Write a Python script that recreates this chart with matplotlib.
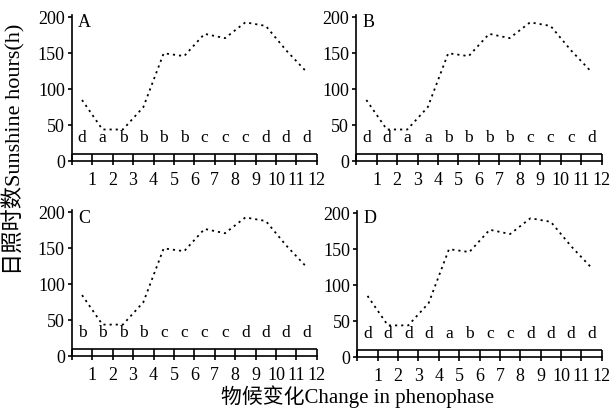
import numpy as np
import matplotlib
matplotlib.use("Agg")
import matplotlib.pyplot as plt

plt.rcParams['font.family'] = ['Liberation Serif', 'Noto Sans CJK SC', 'DejaVu Sans']

# sunshine hours per phenophase period (same curve in every panel)
sunshine = [85, 44, 44, 75, 150, 146, 177, 171, 193, 188, 154, 124]
periods = np.arange(len(sunshine)) + 0.5

panel_names = ['A', 'B', 'C', 'D']
letters = {
    'A': ['d', 'a', 'b', 'b', 'b', 'b', 'c', 'c', 'c', 'd', 'd', 'd'],
    'B': ['d', 'd', 'a', 'a', 'b', 'b', 'b', 'b', 'c', 'c', 'c', 'd'],
    'C': ['b', 'b', 'b', 'b', 'c', 'c', 'c', 'c', 'd', 'd', 'd', 'd'],
    'D': ['d', 'd', 'd', 'd', 'a', 'b', 'c', 'c', 'd', 'd', 'd', 'd'],
}
yticks = [0, 50, 100, 150, 200]
xticks = np.arange(0, 13)
xticklabels = [''] + [str(i) for i in range(1, 13)]

fig = plt.figure(figsize=(6.14, 4.09), dpi=100)

boxes = [
    [0.117, 0.606, 0.399, 0.357],
    [0.580, 0.606, 0.400, 0.357],
    [0.117, 0.129, 0.399, 0.357],
    [0.582, 0.127, 0.398, 0.357],
]

for name, box in zip(panel_names, boxes):
    ax = fig.add_axes(box)
    ax.plot(periods, sunshine, color='black', lw=1.3, linestyle=(0, (1.2, 2.2)))
    for x, s in zip(periods, letters[name]):
        ax.text(x, 27, s, ha='center', va='baseline', fontsize=12.5)
    ax.text(0.3, 204, name, ha='left', va='top', fontsize=13)

    # double bottom band with ticks crossing it
    ax.axhline(10, color='black', lw=1.2)
    ax.vlines(xticks, 0, 10, color='black', lw=1.2, clip_on=False)

    ax.set_xlim(0, 12)
    ax.set_ylim(0, 203)
    ax.set_xticks(xticks)
    ax.set_xticklabels(xticklabels)
    ax.set_yticks(yticks)
    ax.tick_params(axis='x', direction='out', length=3, width=1.2, pad=5, labelsize=13)
    ax.tick_params(axis='y', direction='out', length=3, width=1.2, pad=2, labelsize=13)
    for sp in ['top', 'right']:
        ax.spines[sp].set_visible(False)
    for sp in ['left', 'bottom']:
        ax.spines[sp].set_linewidth(1.2)

fig.text(0.022, 0.635, '日照时数Sunshine hours(h)', rotation=90,
         ha='center', va='center', fontsize=16)
fig.text(0.583, 0.030, '物候变化Change in phenophase',
         ha='center', va='center', fontsize=15)

fig.savefig('out.png', dpi=100)
